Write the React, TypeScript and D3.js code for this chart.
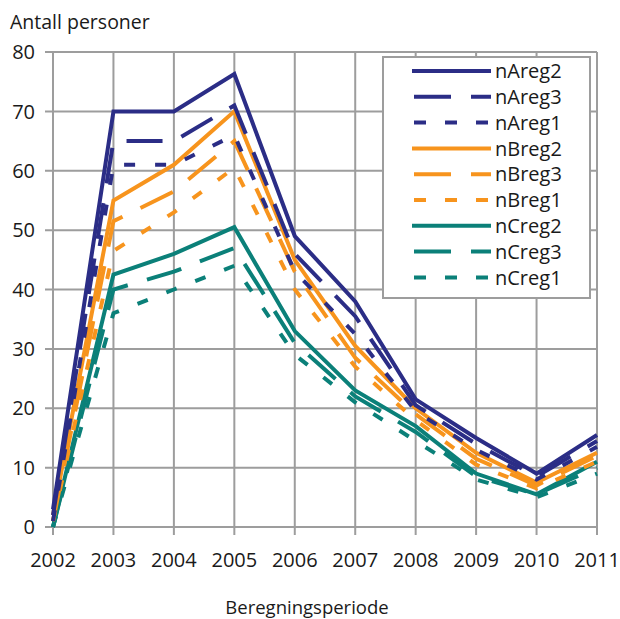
import { useMemo } from "react"
import * as d3 from "d3"

const years = [2002, 2003, 2004, 2005, 2006, 2007, 2008, 2009, 2010, 2011]
const yTicks = [0, 10, 20, 30, 40, 50, 60, 70, 80]

const nAreg2 = [3, 70, 70, 76.3, 49, 38, 21.5, 15, 9, 15.5]
const nAreg3 = [2, 65, 65, 71, 46, 35.5, 20.5, 14, 8.5, 14.5]
const nAreg1 = [1, 61, 61, 66, 43, 32.5, 19.5, 13, 8, 13.5]
const nBreg2 = [2, 55, 61, 70, 45, 30.5, 20, 12.5, 7.5, 12.5]
const nBreg3 = [1, 51.5, 56.5, 65, 43, 28.5, 19, 11.5, 7, 12]
const nBreg1 = [1, 46.5, 53, 60.5, 40, 27, 18, 10.5, 6.5, 11]
const nCreg2 = [0, 42.5, 46, 50.5, 33, 23, 17, 9, 5.5, 11]
const nCreg3 = [0, 40, 43, 47, 31, 22, 16, 8.5, 5.5, 10]
const nCreg1 = [0, 36, 40, 44, 29, 21, 14.5, 8, 5, 9]

const NAVY = "#2b2d86"
const ORANGE = "#f7941d"
const TEAL = "#0b8079"
const GRID = "#9d9d9d"

const LONG = "36 20"
const SHORT = "11 20"

const series = [
  { name: "nAreg2", values: nAreg2, color: NAVY, dash: "" },
  { name: "nAreg3", values: nAreg3, color: NAVY, dash: LONG },
  { name: "nAreg1", values: nAreg1, color: NAVY, dash: SHORT },
  { name: "nBreg2", values: nBreg2, color: ORANGE, dash: "" },
  { name: "nBreg3", values: nBreg3, color: ORANGE, dash: LONG },
  { name: "nBreg1", values: nBreg1, color: ORANGE, dash: SHORT },
  { name: "nCreg2", values: nCreg2, color: TEAL, dash: "" },
  { name: "nCreg3", values: nCreg3, color: TEAL, dash: LONG },
  { name: "nCreg1", values: nCreg1, color: TEAL, dash: SHORT },
]

const FONT = "'Open Sans', 'Noto Sans', sans-serif"

export default function App() {
  const width = 620
  const height = 619
  const margin = { top: 52, right: 23, bottom: 92, left: 53 }
  const innerW = width - margin.left - margin.right
  const innerH = height - margin.top - margin.bottom

  const x = useMemo(
    () => d3.scaleLinear().domain([2002, 2011]).range([0, innerW]),
    [innerW],
  )
  const y = useMemo(() => d3.scaleLinear().domain([0, 80]).range([innerH, 0]), [innerH])

  const line = d3
    .line<number>()
    .x((_, i) => x(years[i]))
    .y((d) => y(d))

  // legend placement
  const legend = { x: 383 - margin.left, y: 57 - margin.top, w: 207, h: 241 }
  const rowH = 25.8

  return (
    <svg
      width={width}
      height={height}
      style={{ position: "absolute", left: 0, top: 0, background: "#fff" }}
      fontFamily={FONT}
    >
      <text x={10} y={29} fontSize={19.5} fill="#1a1a1a">
        Antall personer
      </text>
      <g transform={`translate(${margin.left},${margin.top})`}>
        {/* grid */}
        {yTicks.map((t) => (
          <g key={`y${t}`}>
            <line x1={-8} x2={innerW} y1={y(t)} y2={y(t)} stroke={GRID} strokeWidth={2} />
            <text
              x={-18}
              y={y(t)}
              dy="0.36em"
              textAnchor="end"
              fontSize={20}
              fill="#1a1a1a"
            >
              {t}
            </text>
          </g>
        ))}
        {years.map((yr) => (
          <g key={`x${yr}`}>
            <line x1={x(yr)} x2={x(yr)} y1={0} y2={innerH + 8} stroke={GRID} strokeWidth={2} />
            <text x={x(yr)} y={innerH + 40} textAnchor="middle" fontSize={20} fill="#1a1a1a">
              {yr}
            </text>
          </g>
        ))}

        {/* series, drawn bottom-up so navy solid ends on top */}
        {[...series].reverse().map((s) => (
          <path
            key={s.name}
            d={line(s.values) ?? ""}
            fill="none"
            stroke={s.color}
            strokeWidth={4}
            strokeDasharray={s.dash || undefined}
          />
        ))}

        {/* legend */}
        <rect
          x={legend.x}
          y={legend.y}
          width={legend.w}
          height={legend.h}
          fill="#fff"
          stroke={GRID}
          strokeWidth={2}
        />
        {series.map((s, i) => {
          const cy = legend.y + 14 + i * rowH
          return (
            <g key={`lg${s.name}`}>
              <line
                x1={legend.x + 29}
                x2={legend.x + 108}
                y1={cy}
                y2={cy}
                stroke={s.color}
                strokeWidth={4}
                strokeDasharray={s.dash ? (s.dash === LONG ? "37 20" : "12 19") : undefined}
                strokeDashoffset={s.dash ? -2 : 0}
              />
              <text x={legend.x + 112} y={cy} dy="0.36em" fontSize={20} fill="#1a1a1a">
                {s.name}
              </text>
            </g>
          )
        })}
      </g>
      <text x={307} y={614} textAnchor="middle" fontSize={18.5} fill="#1a1a1a">
        Beregningsperiode
      </text>
    </svg>
  )
}
